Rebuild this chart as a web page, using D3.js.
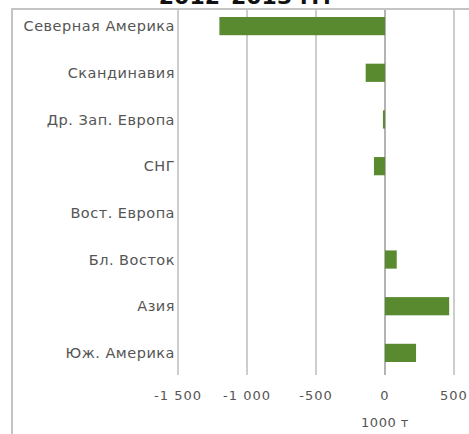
<!DOCTYPE html>
<html>
<head>
<meta charset="utf-8">
<script src="https://cdn.jsdelivr.net/npm/d3@7"></script>
<style>
  body { margin: 0; background: #fff; }
  svg { display: block; font-family: "DejaVu Sans", Verdana, sans-serif; }
</style>
</head>
<body>
<svg id="chart" width="469" height="434"></svg>
<script>
const regions = ['Северная Америка', 'Скандинавия', 'Др. Зап. Европа', 'СНГ', 'Вост. Европа', 'Бл. Восток', 'Азия', 'Юж. Америка'];
const changes = [-1200, -140, -15, -80, 0, 85, 465, 225];
const tickValues = [-1500, -1000, -500, 0, 500];
const titleText = '2012–2013 гг.';
const unitLabel = '1000 т';

const svg = d3.select('#chart');

// title is mostly cut off at the top of the frame
svg.append('text')
  .attr('x', 245)
  .attr('y', 4)
  .attr('text-anchor', 'middle')
  .attr('font-weight', 'bold')
  .attr('font-size', 22)
  .attr('fill', '#111')
  .text(titleText);

// outer frame
svg.append('rect')
  .attr('x', 12)
  .attr('y', 9)
  .attr('width', 480)
  .attr('height', 440)
  .attr('fill', 'none')
  .attr('stroke', '#c4c4c4')
  .attr('stroke-width', 2);

const x = d3.scaleLinear().domain([-1500, 1000]).range([178, 523]);
const y = d3.scaleBand().domain(regions).range([3, 376]).paddingInner(0.61).paddingOuter(0.3);

const gridTop = 10;
const gridBottom = 375;
const fmt = (d) => String(d).replace(/(\d)(\d{3})$/, '$1 $2');

// gridlines + ticks
svg.append('g')
  .selectAll('line')
  .data(tickValues)
  .join('line')
  .attr('x1', (d) => x(d))
  .attr('x2', (d) => x(d))
  .attr('y1', gridTop)
  .attr('y2', gridBottom)
  .attr('stroke', (d) => (d === 0 ? '#9a9a9a' : '#bdbdbd'))
  .attr('stroke-width', 1.5);

svg.append('g')
  .selectAll('text')
  .data(tickValues)
  .join('text')
  .attr('x', (d) => x(d))
  .attr('y', 395)
  .attr('dy', '0.35em')
  .attr('text-anchor', 'middle')
  .attr('font-size', 13)
  .attr('letter-spacing', 1)
  .attr('fill', '#555')
  .text(fmt);

svg.append('text')
  .attr('x', x(0))
  .attr('y', 422)
  .attr('dy', '0.35em')
  .attr('text-anchor', 'middle')
  .attr('font-size', 13)
  .attr('letter-spacing', 0.5)
  .attr('fill', '#555')
  .text(unitLabel);

// bars
svg.append('g')
  .selectAll('rect')
  .data(regions)
  .join('rect')
  .attr('x', (d, i) => x(Math.min(0, changes[i])))
  .attr('y', (d) => y(d))
  .attr('width', (d, i) => Math.abs(x(changes[i]) - x(0)))
  .attr('height', y.bandwidth())
  .attr('fill', '#5a8a2f');

// category labels
svg.append('g')
  .selectAll('text')
  .data(regions)
  .join('text')
  .attr('x', 175)
  .attr('y', (d) => y(d) + y.bandwidth() / 2)
  .attr('dy', '0.35em')
  .attr('text-anchor', 'end')
  .attr('font-size', 14.5)
  .attr('letter-spacing', 0.5)
  .attr('fill', '#555')
  .text((d) => d);
</script>
</body>
</html>
